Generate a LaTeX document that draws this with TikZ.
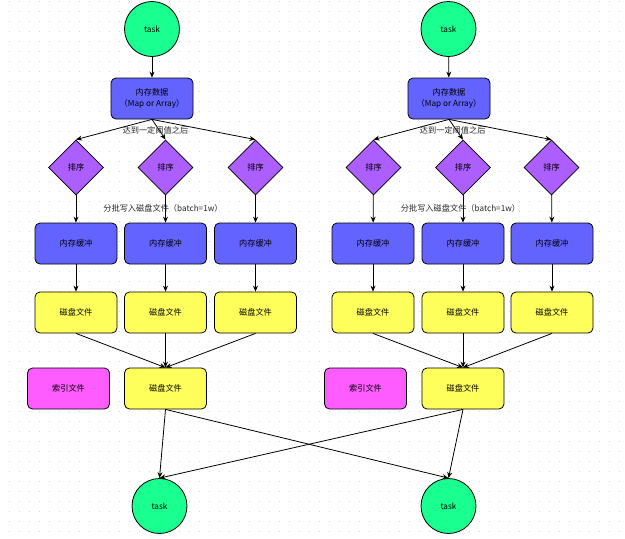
\documentclass[tikz,border=0pt]{standalone}
\usepackage{fontspec}
\setmainfont{Noto Sans CJK SC}
\usetikzlibrary{arrows.meta,shapes.geometric}
\definecolor{taskgreen}{HTML}{19FF90}
\definecolor{memblue}{HTML}{6363FF}
\definecolor{sortpurple}{HTML}{AC5EFF}
\definecolor{diskyellow}{HTML}{FFFF5C}
\definecolor{indexpink}{HTML}{FF5CFF}

\begin{document}
\begin{tikzpicture}[
  x=1pt,y=-1pt,
  font=\fontsize{8.2}{11}\selectfont,
  every node/.style={line width=0.8pt},
  task/.style={circle,draw,fill=taskgreen,minimum size=55pt,inner sep=0},
  box/.style={rectangle,rounded corners=5pt,draw,minimum width=82pt,minimum height=41pt,inner sep=0,align=center},
  mem/.style={box,fill=memblue},
  disk/.style={box,fill=diskyellow},
  idx/.style={box,fill=indexpink},
  sorter/.style={diamond,draw,fill=sortpurple,minimum width=55pt,minimum height=55pt,inner sep=0},
  flow/.style={line width=0.8pt,-{Stealth[length=6pt,width=5pt]}},
  note/.style={text=black!85,inner sep=1pt},
  griddot/.style={black!16,line width=1pt,dash pattern=on 1pt off 9pt,dash phase=1pt}
]
\useasboundingbox (0,0) rectangle (625,539);
\fill[white] (0,0) rectangle (625,539);
\foreach \y in {1,11,...,531}
  \draw[griddot] (0,\y) -- (625,\y);

% left group
\node[task] (task1) at (152,29) {task};
\node[mem] (mem1) at (152,98.5) {内存数据\\（Map or Array）};
\node[sorter] (sort1a) at (76,167.5) {排序};
\node[sorter] (sort1b) at (165.5,167.5) {排序};
\node[sorter] (sort1c) at (255.5,167.5) {排序};
\node[mem] (buf1a) at (76,243.5) {内存缓冲};
\node[mem] (buf1b) at (165.5,243.5) {内存缓冲};
\node[mem] (buf1c) at (255.5,243.5) {内存缓冲};
\node[disk] (disk1a) at (76,312.5) {磁盘文件};
\node[disk] (disk1b) at (165.5,312.5) {磁盘文件};
\node[disk] (disk1c) at (255.5,312.5) {磁盘文件};
\node[idx] (index1) at (68.5,388.5) {索引文件};
\node[disk] (merge1) at (165.5,388.5) {磁盘文件};
\node[task] (out1) at (159.5,506) {task};

% right group
\node[task] (task2) at (448.5,29) {task};
\node[mem] (mem2) at (449,98.5) {内存数据\\（Map or Array）};
\node[sorter] (sort2a) at (373.5,167.5) {排序};
\node[sorter] (sort2b) at (463,167.5) {排序};
\node[sorter] (sort2c) at (551.5,167.5) {排序};
\node[mem] (buf2a) at (373,243.5) {内存缓冲};
\node[mem] (buf2b) at (463,243.5) {内存缓冲};
\node[mem] (buf2c) at (552,243.5) {内存缓冲};
\node[disk] (disk2a) at (373,312.5) {磁盘文件};
\node[disk] (disk2b) at (463,312.5) {磁盘文件};
\node[disk] (disk2c) at (552,312.5) {磁盘文件};
\node[idx] (index2) at (365.5,388.5) {索引文件};
\node[disk] (merge2) at (463,388.5) {磁盘文件};
\node[task] (out2) at (448.5,506) {task};

\draw[flow] (task1) -- (mem1);
\draw[flow] (mem1.south) -- (sort1a.north);
\draw[flow] (mem1.south) -- node[note,pos=0.55,xshift=-4pt]{达到一定阈值之后} (sort1b.north);
\draw[flow] (mem1.south) -- (sort1c.north);
\draw[flow] (sort1a) -- (buf1a);
\draw[flow] (sort1b) -- node[note,pos=0.46,xshift=-2.5pt]{分批写入磁盘文件（batch=1w）} (buf1b);
\draw[flow] (sort1c) -- (buf1c);
\draw[flow] (buf1a) -- (disk1a);
\draw[flow] (buf1b) -- (disk1b);
\draw[flow] (buf1c) -- (disk1c);
\draw[flow] (disk1a.south) -- (merge1.north);
\draw[flow] (disk1b.south) -- (merge1.north);
\draw[flow] (disk1c.south) -- (merge1.north);

\draw[flow] (task2) -- (mem2);
\draw[flow] (mem2.south) -- (sort2a.north);
\draw[flow] (mem2.south) -- node[note,pos=0.55,xshift=-4pt]{达到一定阈值之后} (sort2b.north);
\draw[flow] (mem2.south) -- (sort2c.north);
\draw[flow] (sort2a) -- (buf2a);
\draw[flow] (sort2b) -- node[note,pos=0.46,xshift=-2.5pt]{分批写入磁盘文件（batch=1w）} (buf2b);
\draw[flow] (sort2c) -- (buf2c);
\draw[flow] (buf2a) -- (disk2a);
\draw[flow] (buf2b) -- (disk2b);
\draw[flow] (buf2c) -- (disk2c);
\draw[flow] (disk2a.south) -- (merge2.north);
\draw[flow] (disk2b.south) -- (merge2.north);
\draw[flow] (disk2c.south) -- (merge2.north);

\draw[flow] (merge1.south) -- (out1.north);
\draw[flow] (merge1.south) -- (out2.north);
\draw[flow] (merge2.south) -- (out2.north);
\draw[flow] (merge2.south) -- (out1.north);
\end{tikzpicture}
\end{document}
